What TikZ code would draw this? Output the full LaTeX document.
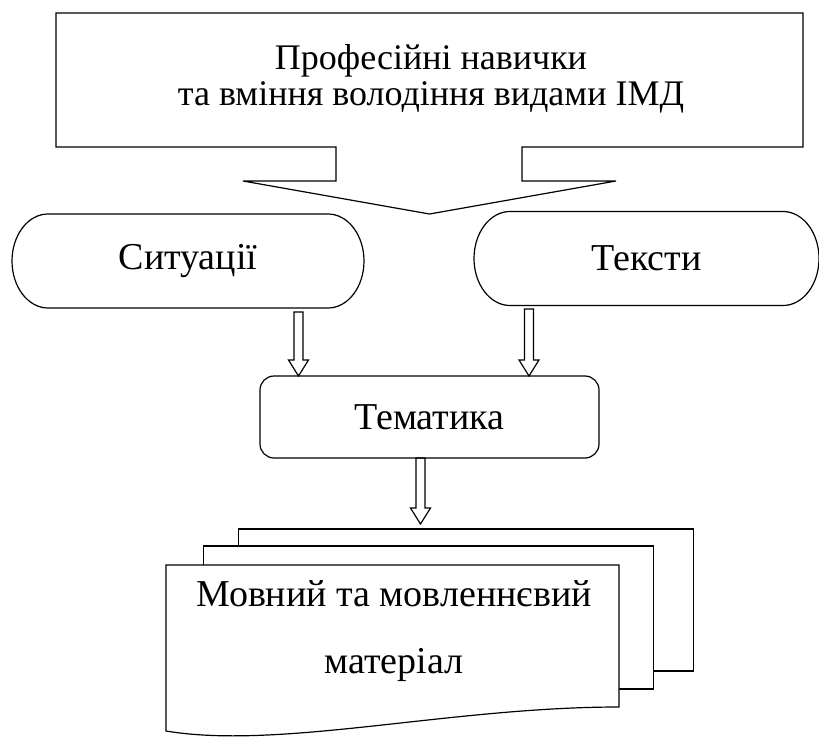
\documentclass[tikz,border=0pt]{standalone}
\usepackage{fontspec}
\setmainfont{Liberation Serif}
\usetikzlibrary{calc}
\tikzset{
	fat/.style={to path={let \p1=(\tikztostart),\p2=(\tikztotarget) in
		(\x1-4.5pt,\y1)--(\x1-4.5pt,\y2+16pt)--(\x1-10pt,\y2+16pt)--(\x1,\y2)
		--(\x1+10pt,\y2+16pt)--(\x1+4.5pt,\y2+16pt)--(\x1+4.5pt,\y1)--cycle}}
}
\newcommand\pillbox[1]{\draw ([xshift=36pt]#1.north west)--([xshift=-36pt]#1.north east)
	arc[start angle=90,end angle=-90,x radius=36pt,y radius=47pt]
	--([xshift=36pt]#1.south west)
	arc[start angle=270,end angle=90,x radius=36pt,y radius=47pt]--cycle;}
\begin{document}
\begin{tikzpicture}[x=1pt,y=1pt,line width=1.2pt,
	big/.style={font=\fontsize{38}{46}\selectfont},
	pill/.style={big,minimum width=#1,minimum height=94pt,outer sep=0pt},
	sheet/.style={draw,fill=white,inner sep=0pt,outer sep=0pt}]
\useasboundingbox (0,0) rectangle (819,-738);
	\draw (56,-13)--(803,-13)--(803,-147)--(522,-147)--(522,-181)--(616,-181)
	--(429.5,-214)--(243,-181)--(336,-181)--(336,-147)--(56,-147)--cycle;
	\node[align=center,font=\fontsize{36}{36}\selectfont] (prof) at (431,-79)
	{Професійні навички\\та вміння володіння видами ІМД};
	\node[pill=352pt] (sit) at (188,-261) {Ситуації};
	\pillbox{sit}
	\node[pill=345pt] (txt) at (646.5,-258.5) {Тексти};
	\pillbox{txt}
	\node[big,draw,rounded corners=14pt,minimum width=339pt,minimum height=82pt,outer sep=0pt]
	(tem) at (429.5,-417) {Тематика};
	\node[sheet,minimum width=455pt,minimum height=142pt] (sh3) at (466,-600) {};
	\node[sheet,minimum width=450pt,minimum height=143pt] (sh2) at (428.5,-617.5) {};
	\draw[fill=white] (166,-565)--(619,-565)--(619,-707)
	.. controls (450,-707) and (280,-750) .. (166,-731)--cycle;
	\node[align=center,font=\fontsize{38}{67}\selectfont] (mat) at (394,-631)
	{Мовний та мовленнєвий\\матеріал};
	\draw[fat] ([xshift=110.5pt,yshift=-4pt]sit.south) to (tem.north);
	\draw[fat] ([xshift=-117.5pt,yshift=-3.5pt]txt.south) to (tem.north);
	\draw[fat] ([xshift=-9pt]tem.south) to ([yshift=5pt]sh3.north);
\end{tikzpicture}
\end{document}
